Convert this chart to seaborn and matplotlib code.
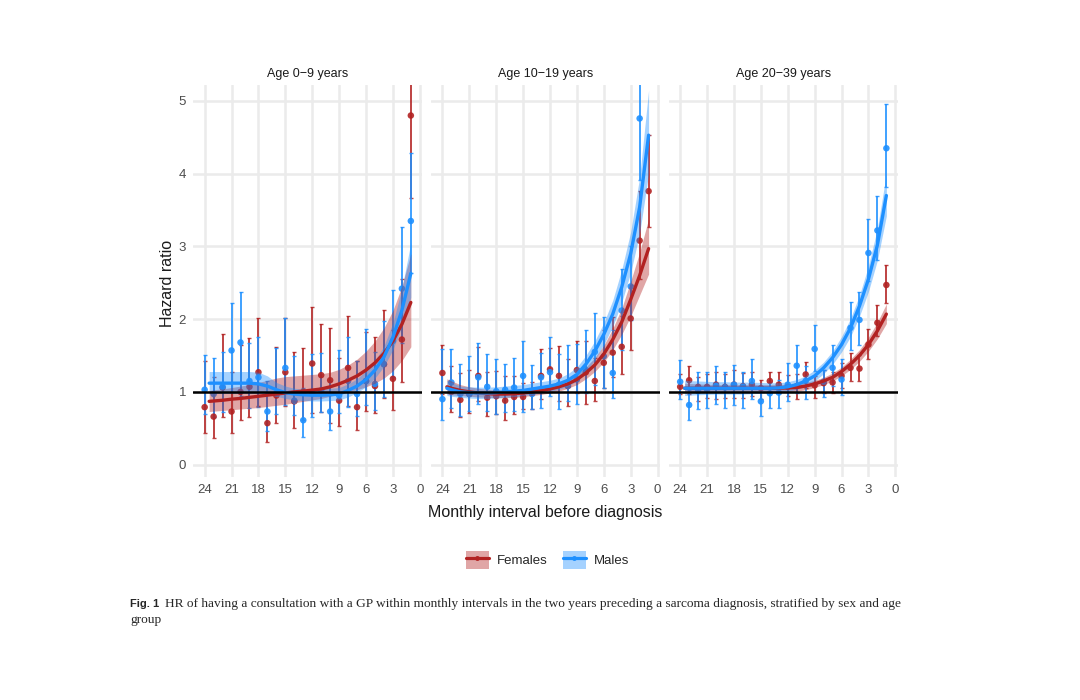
import numpy as np
import pandas as pd
import seaborn as sns
import matplotlib.pyplot as plt
from matplotlib.patches import Patch
from matplotlib.lines import Line2D

# months before diagnosis (points) and the months where the fitted curve is read
months = list(range(24, 0, -1))
fit_months = [23.5] + list(range(23, 0, -1))
panels = ["Age 0\u22129 years", "Age 10\u221219 years", "Age 20\u221239 years"]
sexes = ["Females", "Males"]

# ---- Age 0-9 : monthly HR with 95% CI
f1_hr = [0.79, 0.66, 1.06, 0.73, 1.00, 1.07, 1.27, 0.57, 0.95, 1.27, 0.87, 1.00, 1.39, 1.23, 1.16, 0.88, 1.33, 0.79, 1.15, 1.08, 1.38, 1.18, 1.72, 4.80]
f1_lo = [0.44, 0.37, 0.66, 0.43, 0.62, 0.66, 0.80, 0.31, 0.57, 0.80, 0.50, 0.62, 0.71, 0.73, 0.57, 0.53, 0.80, 0.47, 0.74, 0.71, 0.91, 0.75, 1.14, 3.67]
f1_hi = [1.42, 1.21, 1.80, 1.27, 1.65, 1.74, 2.02, 0.98, 1.62, 2.01, 1.55, 1.61, 2.17, 1.93, 1.88, 1.46, 2.04, 1.42, 1.82, 1.76, 2.13, 1.85, 2.55, 6.20]
m1_hr = [1.03, 0.97, 1.07, 1.57, 1.68, 1.15, 1.20, 0.73, 0.98, 1.33, 0.88, 0.61, 0.98, 1.02, 0.73, 0.95, 1.15, 0.97, 1.15, 1.11, 1.38, 1.70, 2.42, 3.35]
m1_lo = [0.70, 0.66, 0.73, 1.00, 0.94, 0.78, 0.79, 0.46, 0.70, 0.82, 0.68, 0.38, 0.65, 0.73, 0.47, 0.71, 0.79, 0.67, 0.82, 0.75, 0.93, 1.21, 1.67, 2.63]
m1_hi = [1.51, 1.46, 1.55, 2.22, 2.37, 1.67, 1.75, 1.15, 1.60, 2.02, 1.50, 1.05, 1.52, 1.53, 1.15, 1.58, 1.76, 1.42, 1.87, 1.55, 1.97, 2.40, 3.27, 4.28]
f1_fit = [0.87, 0.875, 0.885, 0.90, 0.91, 0.925, 0.94, 0.955, 0.97, 0.985, 1.00, 1.01, 1.025, 1.04, 1.07, 1.11, 1.16, 1.22, 1.30, 1.40, 1.53, 1.70, 1.93, 2.23]
f1_flo = [0.73, 0.735, 0.745, 0.755, 0.765, 0.775, 0.785, 0.80, 0.815, 0.83, 0.85, 0.87, 0.89, 0.91, 0.94, 0.97, 1.00, 1.03, 1.07, 1.12, 1.19, 1.29, 1.43, 1.62]
f1_fhi = [1.02, 1.03, 1.04, 1.06, 1.08, 1.10, 1.13, 1.16, 1.19, 1.21, 1.22, 1.23, 1.24, 1.25, 1.27, 1.31, 1.37, 1.45, 1.56, 1.70, 1.88, 2.12, 2.45, 2.90]
m1_fit = [1.12, 1.12, 1.12, 1.12, 1.12, 1.12, 1.11, 1.08, 1.03, 0.99, 0.97, 0.96, 0.955, 0.955, 0.96, 0.97, 1.02, 1.08, 1.17, 1.30, 1.48, 1.75, 2.12, 2.63]
m1_flo = [0.98, 0.98, 0.98, 0.98, 0.98, 0.98, 0.98, 0.97, 0.94, 0.91, 0.89, 0.88, 0.875, 0.875, 0.88, 0.89, 0.93, 0.99, 1.07, 1.19, 1.35, 1.58, 1.90, 2.30]
m1_fhi = [1.28, 1.28, 1.28, 1.28, 1.28, 1.28, 1.27, 1.22, 1.13, 1.08, 1.05, 1.04, 1.04, 1.04, 1.05, 1.06, 1.11, 1.18, 1.29, 1.43, 1.63, 1.95, 2.42, 3.05]

# ---- Age 10-19
f2_hr = [1.26, 1.00, 0.89, 0.97, 1.22, 0.92, 0.94, 0.88, 0.93, 0.93, 1.00, 1.22, 1.31, 1.22, 1.08, 1.30, 1.27, 1.15, 1.40, 1.54, 1.62, 2.01, 3.08, 3.76]
f2_lo = [0.97, 0.72, 0.65, 0.71, 0.88, 0.67, 0.69, 0.62, 0.70, 0.77, 0.77, 0.90, 1.00, 0.88, 0.81, 0.98, 0.83, 0.88, 1.05, 1.21, 1.24, 1.58, 2.55, 3.27]
f2_hi = [1.65, 1.36, 1.26, 1.30, 1.62, 1.27, 1.29, 1.22, 1.22, 1.12, 1.14, 1.59, 1.60, 1.63, 1.45, 1.70, 1.70, 1.47, 1.85, 2.03, 2.05, 2.47, 3.76, 4.53]
m2_hr = [0.90, 1.13, 0.97, 0.97, 1.20, 1.07, 1.01, 1.03, 1.06, 1.22, 0.97, 1.20, 1.27, 1.10, 1.08, 1.17, 1.30, 1.55, 1.49, 1.26, 2.12, 2.45, 4.76, 6.00]
m2_lo = [0.62, 0.78, 0.67, 0.74, 0.83, 0.74, 0.69, 0.72, 0.74, 0.72, 0.76, 0.78, 0.95, 0.76, 0.88, 0.83, 0.98, 1.10, 1.05, 0.92, 1.58, 1.99, 3.92, 5.40]
m2_hi = [1.59, 1.59, 1.38, 1.49, 1.67, 1.52, 1.45, 1.38, 1.47, 1.70, 1.37, 1.54, 1.76, 1.52, 1.64, 1.66, 1.85, 2.08, 2.03, 1.85, 2.69, 3.00, 5.90, 7.00]
f2_fit = [1.07, 1.05, 1.02, 1.00, 0.985, 0.975, 0.97, 0.97, 0.975, 0.985, 1.00, 1.02, 1.04, 1.07, 1.11, 1.17, 1.26, 1.37, 1.52, 1.72, 1.96, 2.27, 2.60, 2.97]
f2_flo = [0.97, 0.96, 0.95, 0.94, 0.93, 0.925, 0.92, 0.92, 0.925, 0.935, 0.95, 0.965, 0.985, 1.01, 1.05, 1.10, 1.18, 1.28, 1.41, 1.58, 1.79, 2.04, 2.33, 2.62]
f2_fhi = [1.18, 1.15, 1.10, 1.07, 1.05, 1.035, 1.025, 1.025, 1.03, 1.04, 1.055, 1.075, 1.10, 1.13, 1.17, 1.24, 1.34, 1.47, 1.64, 1.87, 2.15, 2.52, 2.92, 3.38]
m2_fit = [1.05, 1.03, 1.00, 0.99, 0.985, 0.985, 0.99, 1.00, 1.01, 1.02, 1.04, 1.06, 1.08, 1.11, 1.16, 1.24, 1.38, 1.56, 1.79, 2.07, 2.44, 2.90, 3.54, 4.53]
m2_flo = [0.95, 0.94, 0.925, 0.915, 0.91, 0.91, 0.915, 0.925, 0.935, 0.95, 0.965, 0.985, 1.005, 1.035, 1.08, 1.15, 1.27, 1.44, 1.65, 1.90, 2.23, 2.64, 3.18, 4.00]
m2_fhi = [1.16, 1.13, 1.08, 1.07, 1.065, 1.065, 1.07, 1.08, 1.09, 1.10, 1.12, 1.14, 1.16, 1.19, 1.25, 1.34, 1.50, 1.70, 1.95, 2.26, 2.68, 3.20, 3.95, 5.15]

# ---- Age 20-39
f3_hr = [1.07, 1.16, 1.07, 1.07, 1.10, 1.07, 1.10, 1.08, 1.10, 1.05, 1.15, 1.10, 1.07, 1.08, 1.24, 1.09, 1.12, 1.13, 1.22, 1.33, 1.32, 1.65, 1.95, 2.47]
f3_lo = [0.97, 0.97, 0.88, 0.92, 0.90, 0.92, 0.91, 0.92, 0.95, 0.90, 1.00, 0.98, 0.95, 0.90, 1.05, 0.92, 0.98, 0.98, 1.05, 1.15, 1.15, 1.45, 1.77, 2.22]
f3_hi = [1.24, 1.36, 1.20, 1.25, 1.28, 1.25, 1.30, 1.26, 1.28, 1.17, 1.27, 1.28, 1.23, 1.24, 1.41, 1.22, 1.30, 1.28, 1.40, 1.53, 1.51, 1.86, 2.19, 2.74]
m3_hr = [1.14, 0.82, 1.01, 1.03, 1.08, 1.06, 1.10, 1.07, 1.15, 0.87, 0.98, 0.99, 1.10, 1.36, 1.15, 1.59, 1.14, 1.33, 1.17, 1.88, 1.99, 2.91, 3.22, 4.35]
m3_lo = [0.90, 0.62, 0.76, 0.78, 0.84, 0.78, 0.82, 0.78, 0.90, 0.67, 0.78, 0.78, 0.88, 0.99, 0.90, 1.29, 0.93, 1.08, 0.96, 1.58, 1.65, 2.53, 2.81, 3.82]
m3_hi = [1.44, 1.02, 1.27, 1.27, 1.35, 1.27, 1.37, 1.28, 1.45, 1.08, 1.13, 1.17, 1.40, 1.65, 1.36, 1.92, 1.30, 1.64, 1.45, 2.23, 2.38, 3.38, 3.70, 4.96]
f3_fit = [1.05, 1.05, 1.05, 1.05, 1.05, 1.05, 1.05, 1.05, 1.05, 1.05, 1.05, 1.05, 1.055, 1.06, 1.08, 1.11, 1.15, 1.20, 1.28, 1.38, 1.50, 1.65, 1.84, 2.07]
f3_flo = [0.99, 0.99, 0.995, 1.0, 1.0, 1.0, 1.0, 1.0, 1.0, 1.0, 1.0, 1.0, 1.005, 1.01, 1.03, 1.06, 1.10, 1.15, 1.22, 1.31, 1.42, 1.56, 1.73, 1.94]
f3_fhi = [1.12, 1.115, 1.11, 1.105, 1.10, 1.10, 1.10, 1.10, 1.10, 1.10, 1.10, 1.10, 1.105, 1.11, 1.13, 1.16, 1.20, 1.26, 1.34, 1.45, 1.58, 1.75, 1.96, 2.21]
m3_fit = [1.05, 1.05, 1.05, 1.05, 1.05, 1.05, 1.05, 1.05, 1.05, 1.05, 1.05, 1.055, 1.07, 1.10, 1.15, 1.22, 1.33, 1.47, 1.65, 1.88, 2.18, 2.55, 3.02, 3.70]
m3_flo = [0.95, 0.955, 0.96, 0.965, 0.97, 0.97, 0.97, 0.97, 0.975, 0.98, 0.985, 0.99, 1.005, 1.035, 1.08, 1.15, 1.25, 1.38, 1.55, 1.76, 2.04, 2.38, 2.81, 3.42]
m3_fhi = [1.16, 1.155, 1.15, 1.145, 1.14, 1.14, 1.135, 1.135, 1.135, 1.13, 1.125, 1.125, 1.14, 1.17, 1.22, 1.30, 1.41, 1.56, 1.76, 2.01, 2.33, 2.73, 3.25, 4.00]

points_by_panel = [
    [(f1_hr, f1_lo, f1_hi), (m1_hr, m1_lo, m1_hi)],
    [(f2_hr, f2_lo, f2_hi), (m2_hr, m2_lo, m2_hi)],
    [(f3_hr, f3_lo, f3_hi), (m3_hr, m3_lo, m3_hi)],
]
fits_by_panel = [
    [(f1_fit, f1_flo, f1_fhi), (m1_fit, m1_flo, m1_fhi)],
    [(f2_fit, f2_flo, f2_fhi), (m2_fit, m2_flo, m2_fhi)],
    [(f3_fit, f3_flo, f3_fhi), (m3_fit, m3_flo, m3_fhi)],
]

rows, frows = [], []
for p, name in enumerate(panels):
    for s, sex in enumerate(sexes):
        hr, lo, hi = points_by_panel[p][s]
        for m, a, b, c in zip(months, hr, lo, hi):
            rows.append((name, sex, m, a, b, c))
        fit, flo, fhi = fits_by_panel[p][s]
        for m, a, b, c in zip(fit_months, fit, flo, fhi):
            frows.append((name, sex, m, a, b, c))
pts = pd.DataFrame(rows, columns=["panel", "sex", "month", "hr", "lo", "hi"])
fits = pd.DataFrame(frows, columns=["panel", "sex", "month", "fit", "lo", "hi"])

pal = {"Females": "#B22222", "Males": "#1E90FF"}

sns.set_theme(style="white")
plt.rcParams["font.family"] = ["Liberation Sans", "DejaVu Sans"]

fig, axes = plt.subplots(1, 3, figsize=(10.8, 7), dpi=100, sharey=True)
fig.subplots_adjust(left=0.1787, right=0.8315, bottom=0.3186, top=0.8786, wspace=0.036)

for ax, name in zip(axes, panels):
    ax.set_facecolor("white")
    for sp in ax.spines.values():
        sp.set_visible(False)
    ax.grid(True, color="#EBEBEB", lw=1.8)
    ax.set_axisbelow(True)
    sub = pts[pts.panel == name]
    fsub = fits[fits.panel == name]
    for sex in sexes:
        d = sub[sub.sex == sex]
        ax.errorbar(d.month, d.hr, yerr=[d.hr - d.lo, d.hi - d.hr], fmt="none",
                    ecolor=pal[sex], elinewidth=1.4, capsize=1.6, capthick=1.0,
                    alpha=0.85, zorder=2)
    sns.scatterplot(data=sub, x="month", y="hr", hue="sex", palette=pal, s=22,
                    linewidth=0, alpha=0.9, legend=False, ax=ax, zorder=3)
    for sex in sexes:
        d = fsub[fsub.sex == sex]
        ax.fill_between(d.month, d.lo, d.hi, color=pal[sex], alpha=0.4, lw=0, zorder=4)
    sns.lineplot(data=fsub, x="month", y="fit", hue="sex", palette=pal, lw=2.4,
                 legend=False, ax=ax, zorder=5)
    ax.axhline(1, color="black", lw=1.8, zorder=6)
    ax.set_xlim(25.3, -0.3)
    ax.set_ylim(-0.17, 5.22)
    ax.set_xticks(range(24, -1, -3))
    ax.set_yticks(range(0, 6))
    ax.tick_params(axis="both", length=0, labelsize=9.5, labelcolor="#4D4D4D", pad=5)
    ax.set_xlabel("")
    ax.set_ylabel("")
    ax.set_title(name, fontsize=9, color="#1A1A1A", pad=6)

fig.text(0.155, 0.595, "Hazard ratio", rotation=90, ha="center", va="center",
         fontsize=11.5, color="#1A1A1A")
fig.text(0.505, 0.268, "Monthly interval before diagnosis", ha="center", va="center",
         fontsize=11.5, color="#1A1A1A")

handles = []
for sex in sexes:
    handles.append((Patch(facecolor=pal[sex], alpha=0.4, edgecolor="none"),
                    Line2D([], [], color=pal[sex], lw=2.3, marker="o", ms=2.5)))
fig.legend(handles, sexes, loc="center", bbox_to_anchor=(0.507, 0.2), ncol=2,
           frameon=False, fontsize=9.5, handlelength=1.7, handleheight=1.7,
           columnspacing=1.2, handletextpad=0.6)

# caption
cap1 = fig.text(0.1204, 0.137, "Fig. 1", fontsize=8, fontweight="bold",
                family=["Liberation Sans Narrow", "Liberation Sans"], va="center")
fig.canvas.draw()
bb = cap1.get_window_extent()
x2 = (bb.x1 + 6) / fig.bbox.width
fig.text(x2, 0.137, "HR of having a consultation with a GP within monthly intervals in the two "
         "years preceding a sarcoma diagnosis, stratified by sex and age",
         fontsize=9.6, family=["Liberation Serif", "DejaVu Serif"], va="center")
fig.text(0.1204, 0.114, "group", fontsize=9.6, family=["Liberation Serif", "DejaVu Serif"],
         va="center")

fig.savefig("out.png", dpi=100, facecolor="white")
